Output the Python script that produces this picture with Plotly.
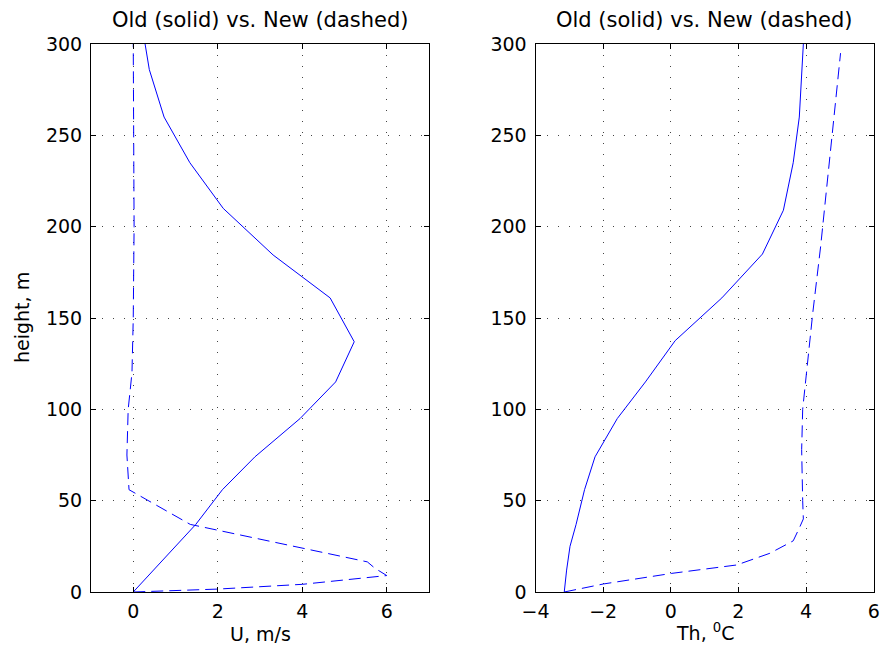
import plotly.graph_objects as go

# Wind speed profiles (height in m, U in m/s)
h_u_old = [0, 25, 37, 56, 74, 95, 115, 137, 161, 184.5, 210, 235, 260, 286, 300]
u_old = [0, 1.01, 1.48, 2.11, 2.88, 3.95, 4.79, 5.23, 4.66, 3.31, 2.13, 1.34, 0.73, 0.38, 0.28]

h_u_new = [0, 1.6, 4.2, 9, 13, 16.5, 37, 56, 75, 90, 100, 120, 150, 200, 250, 300]
u_new = [0, 2.0, 4.0, 6.0, 5.72, 5.54, 1.35, -0.1, -0.15, -0.14, -0.12, -0.03, 0.0, 0.02, 0.01, 0.0]

# Potential temperature profiles (height in m, Th in deg C)
h_th_old = [0, 12, 25, 37, 56, 74, 95, 115, 137.6, 161, 185, 209, 235, 260, 300]
th_old = [-3.15, -3.08, -2.98, -2.8, -2.55, -2.24, -1.58, -0.75, 0.13, 1.51, 2.71, 3.33, 3.62, 3.80, 3.92]

h_th_new = [0, 4.4, 10.2, 14.8, 21.2, 28, 35, 40, 50, 78, 100, 153, 189, 295]
th_new = [-3.15, -1.99, 0.03, 1.95, 2.93, 3.62, 3.8, 3.92, 3.9, 3.87, 3.9, 4.2, 4.43, 5.02]

u_ticks = [0, 2, 4, 6]
th_ticks = [-4, -2, 0, 2, 4, 6]
h_ticks = [0, 50, 100, 150, 200, 250, 300]

title_text = "Old (solid) vs. New (dashed)"
blue = "rgb(0,0,255)"
font = "DejaVu Sans, Verdana, sans-serif"
fsize = 19
dash = "12px,6px"

fig = go.Figure()
fig.add_trace(go.Scatter(x=u_old, y=h_u_old, mode="lines",
                         line=dict(color=blue, width=1), xaxis="x", yaxis="y"))
fig.add_trace(go.Scatter(x=u_new, y=h_u_new, mode="lines",
                         line=dict(color=blue, width=1, dash=dash), xaxis="x", yaxis="y"))
fig.add_trace(go.Scatter(x=th_old, y=h_th_old, mode="lines",
                         line=dict(color=blue, width=1), xaxis="x2", yaxis="y2"))
fig.add_trace(go.Scatter(x=th_new, y=h_th_new, mode="lines",
                         line=dict(color=blue, width=1, dash=dash), xaxis="x2", yaxis="y2"))

W, H = 880, 653
left_dom = [91 / W, 429 / W]
right_dom = [535.5 / W, 873.7 / W]
y_dom = [1 - 592 / H, 1 - 44 / H]

axis_common = dict(
    showline=True, linecolor="black", linewidth=1, mirror="ticks",
    ticks="inside", ticklen=5, tickcolor="black", tickwidth=1,
    showgrid=True, gridcolor="#444", gridwidth=1, griddash="1px,10px",
    zeroline=False, tickfont=dict(family=font, size=fsize, color="black"),
)

fig.update_layout(
    width=W, height=H,
    margin=dict(l=0, r=0, t=0, b=0, autoexpand=False),
    paper_bgcolor="white", plot_bgcolor="white",
    showlegend=False,
    font=dict(family=font, size=fsize, color="black"),
    xaxis=dict(domain=left_dom, range=[-1, 7], tickvals=u_ticks,
               anchor="y", ticklabelstandoff=2, **axis_common),
    yaxis=dict(domain=y_dom, range=[0, 300], tickvals=h_ticks,
               anchor="x", ticklabelstandoff=4, **axis_common),
    xaxis2=dict(domain=right_dom, range=[-4, 6], tickvals=th_ticks,
                ticktext=["\u2212" + str(-t) if t < 0 else str(t) for t in th_ticks],
                anchor="y2", ticklabelstandoff=2, **axis_common),
    yaxis2=dict(domain=y_dom, range=[0, 300], tickvals=h_ticks,
                anchor="x2", ticklabelstandoff=4, **axis_common),
)

annotations = [
    dict(text=title_text, x=(left_dom[0] + left_dom[1]) / 2, y=1 - 20 / H, size=21),
    dict(text=title_text, x=(right_dom[0] + right_dom[1]) / 2, y=1 - 20 / H, size=21),
    dict(text="U, m/s", x=(left_dom[0] + left_dom[1]) / 2, y=1 - 634 / H, size=fsize),
    dict(text="Th, <sup>0</sup>C", x=(right_dom[0] + right_dom[1]) / 2, y=1 - 632 / H, size=fsize),
    dict(text="height, m", x=22 / W, y=1 - 318 / H, textangle=-90, size=fsize),
]
for a in annotations:
    size = a.pop("size")
    fig.add_annotation(xref="paper", yref="paper", showarrow=False,
                       xanchor="center", yanchor="middle",
                       font=dict(family=font, size=size, color="black"), **a)

fig.write_html("out.html")
